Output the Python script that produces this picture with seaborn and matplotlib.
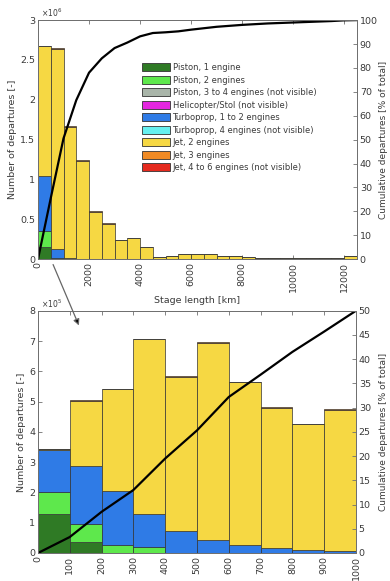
import numpy as np
import pandas as pd
import matplotlib
matplotlib.use("Agg")
import matplotlib.pyplot as plt
import seaborn as sns
from matplotlib.patches import Patch, FancyArrowPatch
from matplotlib.ticker import FuncFormatter, MultipleLocator

sns.set_theme(style="white")
plt.rcParams["font.family"] = ["DejaVu Sans"]

# ---------------- legend categories ----------------
legend_labels = [
    "Piston, 1 engine",
    "Piston, 2 engines",
    "Piston, 3 to 4 engines (not visible)",
    "Helicopter/Stol (not visible)",
    "Turboprop, 1 to 2 engines",
    "Turboprop, 4 engines (not visible)",
    "Jet, 2 engines",
    "Jet, 3 engines",
    "Jet, 4 to 6 engines (not visible)",
]
legend_colors = ["#2f7a25", "#5ee84c", "#a9b5a9", "#e526e0", "#2f7be6",
                 "#66f0f0", "#f6d843", "#f08a24", "#e52a1e"]

# ---------------- top panel: 0-12500 km, 500 km bins (x 1e6 departures) ----
top_edges_km = np.arange(0, 12501, 500)
top_piston1 = [0.15, 0.005] + [0.0] * 23
top_piston2 = [0.20, 0.01] + [0.0] * 23
top_turboprop = [0.69, 0.11, 0.01, 0.005] + [0.0] * 21
top_jet3 = [0.01, 0.012, 0.012, 0.01, 0.006, 0.005, 0.003, 0.003, 0.002,
            0.001] + [0.0] * 15
top_jet2 = [1.63, 2.513, 1.648, 1.225, 0.594, 0.445, 0.237, 0.267, 0.148,
            0.029, 0.04, 0.07, 0.07, 0.06, 0.045, 0.04, 0.03, 0.02, 0.02,
            0.015, 0.015, 0.015, 0.015, 0.02, 0.035]
top_cum_pct = [0, 25.5, 50.5, 66.5, 78.0, 84.0, 88.3, 90.6, 93.2, 94.6, 94.9,
               95.3, 96.0, 96.6, 97.2, 97.6, 98.0, 98.3, 98.6, 98.8, 99.0,
               99.2, 99.4, 99.6, 99.9, 100.0]

# ---------------- bottom panel: 0-1000 km, 100 km bins (x 1e5 departures) ---
bot_edges_km = np.arange(0, 1001, 100)
bot_piston1 = [1.28, 0.35, 0.0, 0.0, 0.0, 0.0, 0.0, 0.0, 0.0, 0.0]
bot_piston2 = [0.74, 0.62, 0.27, 0.20, 0.0, 0.0, 0.0, 0.0, 0.0, 0.0]
bot_turboprop = [1.39, 1.91, 1.78, 1.08, 0.72, 0.44, 0.27, 0.15, 0.09, 0.05]
bot_jet3 = [0.03, 0.02, 0.02, 0.02, 0.02, 0.03, 0.02, 0.02, 0.02, 0.02]
bot_jet2 = [0.01, 2.15, 3.35, 5.78, 5.09, 6.49, 5.37, 4.64, 4.16, 4.67]
bot_cum_pct = [0, 3.3, 8.5, 13.0, 19.5, 25.3, 32.2, 36.8, 41.5, 45.7, 50.0]

EDGE = "#333333"
SPINE = "#707070"
TXT = "#3a3a3a"
FS = 6.8


def stacked_hist(ax, edges, series, scale):
    edges = np.asarray(edges, dtype=float)
    centers = (edges[:-1] + edges[1:]) / 2
    rows = []
    for name, vals in series.items():
        for c, v in zip(centers, vals):
            rows.append((float(c), name, float(v) * scale))
    df = pd.DataFrame(rows, columns=["stage", "type", "count"])
    names = list(series.keys())
    order = names[::-1]  # seaborn puts last hue level at the bottom
    pal = {n: legend_colors[legend_labels.index(n)] for n in names}
    sns.histplot(data=df, x="stage", weights="count", hue="type",
                 hue_order=order, multiple="stack",
                 binwidth=float(edges[1] - edges[0]),
                 binrange=(float(edges[0]), float(edges[-1])),
                 palette=pal, alpha=1, edgecolor=EDGE, linewidth=0.5,
                 legend=False, ax=ax)


def style_axes(ax, ax2):
    for a in (ax, ax2):
        for s in a.spines.values():
            s.set_color(SPINE)
            s.set_linewidth(0.7)
    ax.tick_params(axis="both", direction="in", length=3, width=0.6, pad=2,
                   labelsize=FS, colors=SPINE, labelcolor=TXT)
    ax.tick_params(axis="x", top=True, bottom=True, labelrotation=90)
    ax.tick_params(axis="y", left=True, right=False)
    ax2.tick_params(axis="y", direction="in", length=3, width=0.6, pad=2,
                    labelsize=FS, colors=SPINE, labelcolor=TXT, right=True)


fig = plt.figure(figsize=(3.9, 5.81), dpi=100)

# ---------------- top ----------------
ax = fig.add_axes([0.0974, 0.554, 0.818, 0.4114])
stacked_hist(ax, top_edges_km, {
    "Piston, 1 engine": top_piston1,
    "Piston, 2 engines": top_piston2,
    "Turboprop, 1 to 2 engines": top_turboprop,
    "Jet, 2 engines": top_jet2,
    "Jet, 3 engines": top_jet3,
}, 1e6)
ax.set_xlim(0, 12500)
ax.set_ylim(0, 3e6)
ax.xaxis.set_major_locator(MultipleLocator(2000))
ax.yaxis.set_major_locator(MultipleLocator(0.5e6))
ax.yaxis.set_major_formatter(FuncFormatter(lambda v, p: f"{v / 1e6:g}"))
ax.set_xlabel("Stage length [km]", fontsize=FS, color=TXT, labelpad=3)
ax.set_ylabel("Number of departures [-]", fontsize=FS, color=TXT, labelpad=2)
ax.text(0.01, 1.005, r"$\times10^6$", transform=ax.transAxes, fontsize=5.5,
        color=TXT, va="bottom", ha="left")

ax2 = ax.twinx()
sns.lineplot(x=top_edges_km, y=top_cum_pct, ax=ax2, color="black", lw=1.6)
ax2.set_ylim(0, 100)
ax2.yaxis.set_major_locator(MultipleLocator(10))
ax2.set_ylabel("Cumulative departures [% of total]", fontsize=6.5, color=TXT)
style_axes(ax, ax2)
ax2.yaxis.set_label_coords(1.07, 0.5)

handles = [Patch(facecolor=c, edgecolor=EDGE, linewidth=0.6)
           for c in legend_colors]
ax2.legend(handles, legend_labels, loc="upper left",
           bbox_to_anchor=(0.325, 0.82), frameon=False, fontsize=6,
           handlelength=3.4, handleheight=1.1, labelspacing=0.42,
           handletextpad=0.3, borderpad=0, borderaxespad=0,
           labelcolor=TXT)

# ---------------- bottom ----------------
bx = fig.add_axes([0.0974, 0.0482, 0.8154, 0.417])
stacked_hist(bx, bot_edges_km, {
    "Piston, 1 engine": bot_piston1,
    "Piston, 2 engines": bot_piston2,
    "Turboprop, 1 to 2 engines": bot_turboprop,
    "Jet, 2 engines": bot_jet2,
    "Jet, 3 engines": bot_jet3,
}, 1e5)
bx.set_xlim(0, 1000)
bx.set_ylim(0, 8e5)
bx.xaxis.set_major_locator(MultipleLocator(100))
bx.yaxis.set_major_locator(MultipleLocator(1e5))
bx.yaxis.set_major_formatter(FuncFormatter(lambda v, p: f"{v / 1e5:g}"))
bx.set_xlabel("")
bx.set_ylabel("Number of departures [-]", fontsize=FS, color=TXT, labelpad=2)
bx.text(0.01, 1.005, r"$\times10^5$", transform=bx.transAxes, fontsize=5.5,
        color=TXT, va="bottom", ha="left")

bx2 = bx.twinx()
sns.lineplot(x=bot_edges_km, y=bot_cum_pct, ax=bx2, color="black", lw=1.6)
bx2.set_ylim(0, 50)
bx2.yaxis.set_major_locator(MultipleLocator(5))
bx2.set_ylabel("Cumulative departures [% of total]", fontsize=6.5, color=TXT)
style_axes(bx, bx2)
bx2.yaxis.set_label_coords(1.072, 0.5)

# zoom arrow from top panel to bottom panel
fig.add_artist(FancyArrowPatch(
    (52 / 390, 1 - 262 / 581), (80 / 390, 1 - 328 / 581),
    transform=fig.transFigure, arrowstyle="-|>", mutation_scale=9,
    facecolor="black", edgecolor="#666666", lw=0.9))

fig.savefig("out.png", dpi=100)
